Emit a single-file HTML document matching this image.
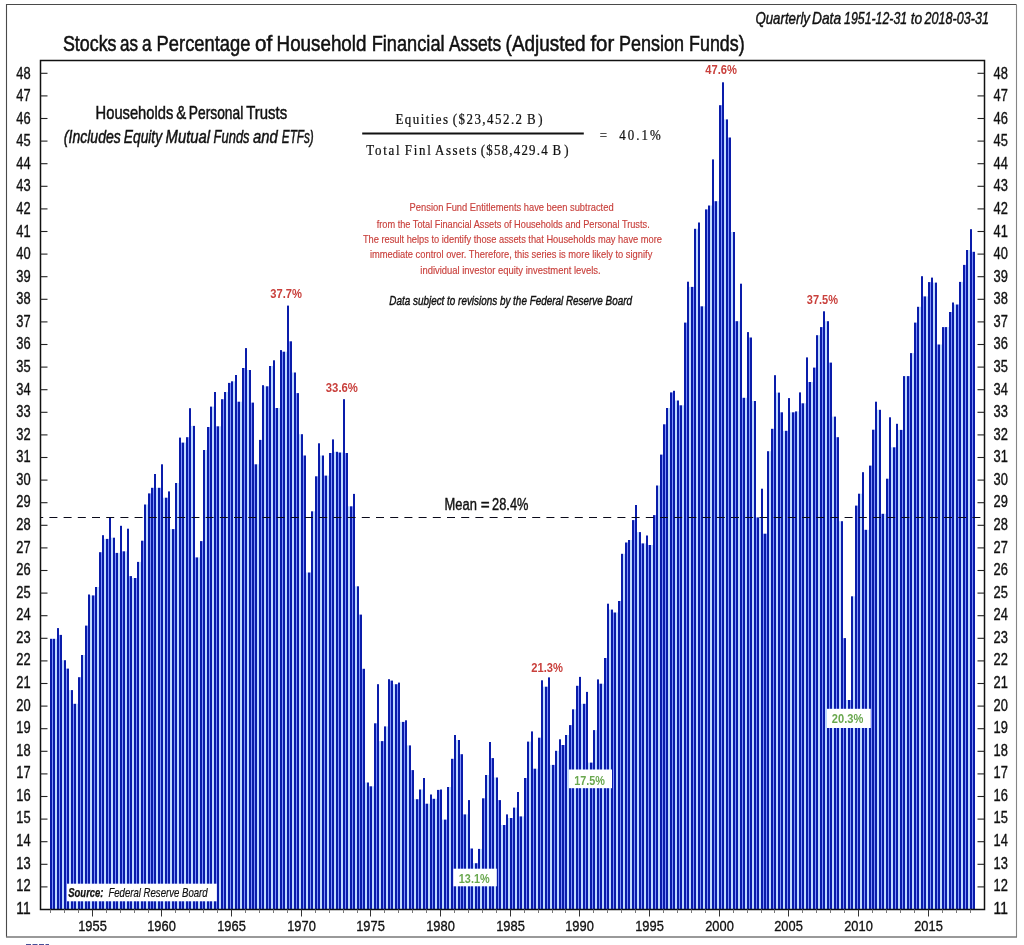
<!DOCTYPE html>
<html lang="en"><head><meta charset="utf-8"><title>Stocks as a Percentage of Household Financial Assets</title>
<style>html,body{margin:0;padding:0;background:#fff}svg{display:block}text{font-family:"Liberation Sans", sans-serif}.sf{font-family:"Liberation Serif", serif}</style></head><body>
<svg width="1024" height="945" viewBox="0 0 1024 945">
<rect x="0" y="0" width="1024" height="945" fill="#fff"/>
<path d="M6.5 937V4.5H1016.5" fill="none" stroke="#4a4a4a" stroke-width="1.1"/>
<path d="M1016.5 4.5V937" fill="none" stroke="#858585" stroke-width="1.1"/>
<path d="M6 937H1017" fill="none" stroke="#777" stroke-width="1.7"/>
<path d="M26 944.7H49" fill="none" stroke="#1a237e" stroke-width="1.2" stroke-dasharray="5 1.5" opacity="0.8"/>
<g fill="#8092fc">
<rect x="52" y="638.8" width="1" height="270.7"/>
<rect x="59" y="634.9" width="1" height="274.6"/>
<rect x="66" y="668.6" width="1" height="240.9"/>
<rect x="73" y="703.8" width="1" height="205.7"/>
<rect x="80" y="677.2" width="1" height="232.3"/>
<rect x="87" y="625.6" width="1" height="283.9"/>
<rect x="94" y="595.4" width="1" height="314.1"/>
<rect x="101" y="552.2" width="1" height="357.3"/>
<rect x="108" y="538.9" width="1" height="370.6"/>
<rect x="115" y="552.9" width="1" height="356.6"/>
<rect x="122" y="551.3" width="1" height="358.2"/>
<rect x="129" y="576.1" width="1" height="333.4"/>
<rect x="136" y="578.0" width="1" height="331.5"/>
<rect x="143" y="540.7" width="1" height="368.8"/>
<rect x="150" y="493.4" width="1" height="416.1"/>
<rect x="153" y="487.8" width="1" height="421.7"/>
<rect x="160" y="487.8" width="1" height="421.7"/>
<rect x="167" y="497.7" width="1" height="411.8"/>
<rect x="174" y="529.1" width="1" height="380.4"/>
<rect x="181" y="442.6" width="1" height="466.9"/>
<rect x="188" y="437.2" width="1" height="472.3"/>
<rect x="195" y="557.4" width="1" height="352.1"/>
<rect x="202" y="541.1" width="1" height="368.4"/>
<rect x="209" y="427.0" width="1" height="482.5"/>
<rect x="216" y="426.3" width="1" height="483.2"/>
<rect x="223" y="399.2" width="1" height="510.3"/>
<rect x="230" y="382.9" width="1" height="526.6"/>
<rect x="237" y="401.7" width="1" height="507.8"/>
<rect x="244" y="368.0" width="1" height="541.5"/>
<rect x="251" y="402.6" width="1" height="506.9"/>
<rect x="254" y="464.3" width="1" height="445.2"/>
<rect x="261" y="439.9" width="1" height="469.6"/>
<rect x="268" y="386.3" width="1" height="523.2"/>
<rect x="275" y="408.0" width="1" height="501.5"/>
<rect x="282" y="351.7" width="1" height="557.8"/>
<rect x="289" y="341.3" width="1" height="568.2"/>
<rect x="296" y="393.1" width="1" height="516.4"/>
<rect x="303" y="455.5" width="1" height="454.0"/>
<rect x="310" y="572.5" width="1" height="337.0"/>
<rect x="317" y="476.3" width="1" height="433.2"/>
<rect x="324" y="475.6" width="1" height="433.9"/>
<rect x="331" y="453.0" width="1" height="456.5"/>
<rect x="338" y="452.5" width="1" height="457.0"/>
<rect x="345" y="453.0" width="1" height="456.5"/>
<rect x="352" y="506.3" width="1" height="403.2"/>
<rect x="359" y="614.6" width="1" height="294.9"/>
<rect x="362" y="668.8" width="1" height="240.7"/>
<rect x="369" y="786.3" width="1" height="123.2"/>
<rect x="376" y="723.3" width="1" height="186.2"/>
<rect x="383" y="741.1" width="1" height="168.4"/>
<rect x="390" y="680.6" width="1" height="228.9"/>
<rect x="397" y="684.2" width="1" height="225.3"/>
<rect x="404" y="721.9" width="1" height="187.6"/>
<rect x="411" y="770.1" width="1" height="139.4"/>
<rect x="418" y="799.2" width="1" height="110.3"/>
<rect x="425" y="803.7" width="1" height="105.8"/>
<rect x="432" y="798.8" width="1" height="110.7"/>
<rect x="439" y="789.9" width="1" height="119.6"/>
<rect x="446" y="819.6" width="1" height="89.9"/>
<rect x="453" y="758.8" width="1" height="150.7"/>
<rect x="460" y="754.2" width="1" height="155.3"/>
<rect x="463" y="814.4" width="1" height="95.1"/>
<rect x="470" y="848.5" width="1" height="61.0"/>
<rect x="477" y="863.2" width="1" height="46.3"/>
<rect x="484" y="798.3" width="1" height="111.2"/>
<rect x="491" y="758.1" width="1" height="151.4"/>
<rect x="498" y="800.1" width="1" height="109.4"/>
<rect x="505" y="825.0" width="1" height="84.5"/>
<rect x="512" y="818.0" width="1" height="91.5"/>
<rect x="519" y="816.4" width="1" height="93.1"/>
<rect x="526" y="778.0" width="1" height="131.5"/>
<rect x="533" y="768.7" width="1" height="140.8"/>
<rect x="540" y="737.7" width="1" height="171.8"/>
<rect x="547" y="686.7" width="1" height="222.8"/>
<rect x="554" y="764.9" width="1" height="144.6"/>
<rect x="561" y="745.0" width="1" height="164.5"/>
<rect x="564" y="745.0" width="1" height="164.5"/>
<rect x="571" y="725.1" width="1" height="184.4"/>
<rect x="578" y="685.8" width="1" height="223.7"/>
<rect x="585" y="703.8" width="1" height="205.7"/>
<rect x="592" y="762.6" width="1" height="146.9"/>
<rect x="599" y="683.7" width="1" height="225.8"/>
<rect x="606" y="658.0" width="1" height="251.5"/>
<rect x="613" y="612.5" width="1" height="297.0"/>
<rect x="620" y="601.0" width="1" height="308.5"/>
<rect x="627" y="542.5" width="1" height="367.0"/>
<rect x="634" y="520.1" width="1" height="389.4"/>
<rect x="641" y="543.4" width="1" height="366.1"/>
<rect x="648" y="545.0" width="1" height="364.5"/>
<rect x="655" y="515.1" width="1" height="394.4"/>
<rect x="662" y="454.6" width="1" height="454.9"/>
<rect x="665" y="424.3" width="1" height="485.2"/>
<rect x="672" y="392.4" width="1" height="517.1"/>
<rect x="679" y="405.3" width="1" height="504.2"/>
<rect x="686" y="322.6" width="1" height="586.9"/>
<rect x="693" y="286.9" width="1" height="622.6"/>
<rect x="700" y="306.3" width="1" height="603.2"/>
<rect x="707" y="209.4" width="1" height="700.1"/>
<rect x="714" y="201.2" width="1" height="708.3"/>
<rect x="721" y="105.2" width="1" height="804.3"/>
<rect x="728" y="137.5" width="1" height="772.0"/>
<rect x="735" y="321.2" width="1" height="588.3"/>
<rect x="742" y="397.8" width="1" height="511.7"/>
<rect x="749" y="337.5" width="1" height="572.0"/>
<rect x="756" y="517.4" width="1" height="392.1"/>
<rect x="763" y="533.7" width="1" height="375.8"/>
<rect x="766" y="533.7" width="1" height="375.8"/>
<rect x="773" y="428.8" width="1" height="480.7"/>
<rect x="780" y="412.3" width="1" height="497.2"/>
<rect x="787" y="430.8" width="1" height="478.7"/>
<rect x="794" y="412.3" width="1" height="497.2"/>
<rect x="801" y="403.3" width="1" height="506.2"/>
<rect x="808" y="382.0" width="1" height="527.5"/>
<rect x="815" y="367.6" width="1" height="541.9"/>
<rect x="822" y="327.1" width="1" height="582.4"/>
<rect x="829" y="362.6" width="1" height="546.9"/>
<rect x="836" y="437.2" width="1" height="472.3"/>
<rect x="843" y="638.1" width="1" height="271.4"/>
<rect x="850" y="700.0" width="1" height="209.5"/>
<rect x="857" y="505.6" width="1" height="403.9"/>
<rect x="864" y="529.8" width="1" height="379.7"/>
<rect x="871" y="465.6" width="1" height="443.9"/>
<rect x="874" y="429.7" width="1" height="479.8"/>
<rect x="881" y="513.8" width="1" height="395.7"/>
<rect x="888" y="478.7" width="1" height="430.8"/>
<rect x="895" y="447.3" width="1" height="462.2"/>
<rect x="902" y="429.9" width="1" height="479.6"/>
<rect x="909" y="376.1" width="1" height="533.4"/>
<rect x="916" y="322.6" width="1" height="586.9"/>
<rect x="923" y="296.4" width="1" height="613.1"/>
<rect x="930" y="282.1" width="1" height="627.4"/>
<rect x="937" y="344.5" width="1" height="565.0"/>
<rect x="944" y="327.1" width="1" height="582.4"/>
<rect x="951" y="312.0" width="1" height="597.5"/>
<rect x="958" y="304.5" width="1" height="605.0"/>
<rect x="965" y="264.9" width="1" height="644.6"/>
<rect x="972" y="251.8" width="1" height="657.7"/>
</g>
<g fill="#c0daff">
<rect x="55" y="638.8" width="2" height="270.7"/>
<rect x="62" y="660.2" width="2" height="249.3"/>
<rect x="69" y="690.1" width="2" height="219.4"/>
<rect x="76" y="703.8" width="2" height="205.7"/>
<rect x="83" y="655.0" width="2" height="254.5"/>
<rect x="90" y="595.4" width="2" height="314.1"/>
<rect x="97" y="587.0" width="2" height="322.5"/>
<rect x="104" y="538.9" width="2" height="370.6"/>
<rect x="111" y="537.7" width="2" height="371.8"/>
<rect x="118" y="552.9" width="2" height="356.6"/>
<rect x="125" y="551.3" width="2" height="358.2"/>
<rect x="132" y="578.0" width="2" height="331.5"/>
<rect x="139" y="561.9" width="2" height="347.6"/>
<rect x="146" y="504.5" width="2" height="405.0"/>
<rect x="156" y="487.8" width="2" height="421.7"/>
<rect x="163" y="497.7" width="2" height="411.8"/>
<rect x="170" y="529.1" width="2" height="380.4"/>
<rect x="177" y="483.0" width="2" height="426.5"/>
<rect x="184" y="442.6" width="2" height="466.9"/>
<rect x="191" y="425.9" width="2" height="483.6"/>
<rect x="198" y="557.4" width="2" height="352.1"/>
<rect x="205" y="450.0" width="2" height="459.5"/>
<rect x="212" y="406.6" width="2" height="502.9"/>
<rect x="219" y="426.3" width="2" height="483.2"/>
<rect x="226" y="392.0" width="2" height="517.5"/>
<rect x="233" y="381.3" width="2" height="528.2"/>
<rect x="240" y="401.7" width="2" height="507.8"/>
<rect x="247" y="370.0" width="2" height="539.5"/>
<rect x="257" y="464.3" width="2" height="445.2"/>
<rect x="264" y="386.3" width="2" height="523.2"/>
<rect x="271" y="366.0" width="2" height="543.5"/>
<rect x="278" y="408.0" width="2" height="501.5"/>
<rect x="285" y="351.7" width="2" height="557.8"/>
<rect x="292" y="372.5" width="2" height="537.0"/>
<rect x="299" y="434.2" width="2" height="475.3"/>
<rect x="306" y="572.5" width="2" height="337.0"/>
<rect x="313" y="511.3" width="2" height="398.2"/>
<rect x="320" y="455.5" width="2" height="454.0"/>
<rect x="327" y="475.6" width="2" height="433.9"/>
<rect x="334" y="451.8" width="2" height="457.7"/>
<rect x="341" y="452.5" width="2" height="457.0"/>
<rect x="348" y="506.3" width="2" height="403.2"/>
<rect x="355" y="586.3" width="2" height="323.2"/>
<rect x="365" y="782.5" width="2" height="127.0"/>
<rect x="372" y="786.3" width="2" height="123.2"/>
<rect x="379" y="741.1" width="2" height="168.4"/>
<rect x="386" y="726.4" width="2" height="183.1"/>
<rect x="393" y="684.2" width="2" height="225.3"/>
<rect x="400" y="721.9" width="2" height="187.6"/>
<rect x="407" y="745.4" width="2" height="164.1"/>
<rect x="414" y="799.2" width="2" height="110.3"/>
<rect x="421" y="789.5" width="2" height="120.0"/>
<rect x="428" y="803.7" width="2" height="105.8"/>
<rect x="435" y="798.8" width="2" height="110.7"/>
<rect x="442" y="819.6" width="2" height="89.9"/>
<rect x="449" y="787.0" width="2" height="122.5"/>
<rect x="456" y="740.0" width="2" height="169.5"/>
<rect x="466" y="814.4" width="2" height="95.1"/>
<rect x="473" y="863.2" width="2" height="46.3"/>
<rect x="480" y="848.9" width="2" height="60.6"/>
<rect x="487" y="775.0" width="2" height="134.5"/>
<rect x="494" y="777.5" width="2" height="132.0"/>
<rect x="501" y="825.0" width="2" height="84.5"/>
<rect x="508" y="818.0" width="2" height="91.5"/>
<rect x="515" y="807.6" width="2" height="101.9"/>
<rect x="522" y="816.4" width="2" height="93.1"/>
<rect x="529" y="741.6" width="2" height="167.9"/>
<rect x="536" y="768.7" width="2" height="140.8"/>
<rect x="543" y="686.7" width="2" height="222.8"/>
<rect x="550" y="764.9" width="2" height="144.6"/>
<rect x="557" y="750.8" width="2" height="158.7"/>
<rect x="567" y="735.0" width="2" height="174.5"/>
<rect x="574" y="709.3" width="2" height="200.2"/>
<rect x="581" y="703.8" width="2" height="205.7"/>
<rect x="588" y="762.6" width="2" height="146.9"/>
<rect x="595" y="730.1" width="2" height="179.4"/>
<rect x="602" y="683.7" width="2" height="225.8"/>
<rect x="609" y="609.6" width="2" height="299.9"/>
<rect x="616" y="612.5" width="2" height="297.0"/>
<rect x="623" y="553.8" width="2" height="355.7"/>
<rect x="630" y="540.0" width="2" height="369.5"/>
<rect x="637" y="532.1" width="2" height="377.4"/>
<rect x="644" y="543.4" width="2" height="366.1"/>
<rect x="651" y="545.0" width="2" height="364.5"/>
<rect x="658" y="485.5" width="2" height="424.0"/>
<rect x="668" y="408.0" width="2" height="501.5"/>
<rect x="675" y="400.5" width="2" height="509.0"/>
<rect x="682" y="405.3" width="2" height="504.2"/>
<rect x="689" y="286.9" width="2" height="622.6"/>
<rect x="696" y="228.8" width="2" height="680.7"/>
<rect x="703" y="306.3" width="2" height="603.2"/>
<rect x="710" y="205.5" width="2" height="704.0"/>
<rect x="717" y="201.2" width="2" height="708.3"/>
<rect x="724" y="119.4" width="2" height="790.1"/>
<rect x="731" y="232.0" width="2" height="677.5"/>
<rect x="738" y="321.2" width="2" height="588.3"/>
<rect x="745" y="397.8" width="2" height="511.7"/>
<rect x="752" y="401.0" width="2" height="508.5"/>
<rect x="759" y="517.4" width="2" height="392.1"/>
<rect x="769" y="451.2" width="2" height="458.3"/>
<rect x="776" y="392.6" width="2" height="516.9"/>
<rect x="783" y="430.8" width="2" height="478.7"/>
<rect x="790" y="412.3" width="2" height="497.2"/>
<rect x="797" y="411.4" width="2" height="498.1"/>
<rect x="804" y="403.3" width="2" height="506.2"/>
<rect x="811" y="382.0" width="2" height="527.5"/>
<rect x="818" y="335.2" width="2" height="574.3"/>
<rect x="825" y="321.2" width="2" height="588.3"/>
<rect x="832" y="416.6" width="2" height="492.9"/>
<rect x="839" y="521.2" width="2" height="388.3"/>
<rect x="846" y="700.0" width="2" height="209.5"/>
<rect x="853" y="596.3" width="2" height="313.2"/>
<rect x="860" y="493.7" width="2" height="415.8"/>
<rect x="867" y="529.8" width="2" height="379.7"/>
<rect x="877" y="409.8" width="2" height="499.7"/>
<rect x="884" y="513.8" width="2" height="395.7"/>
<rect x="891" y="447.3" width="2" height="462.2"/>
<rect x="898" y="429.9" width="2" height="479.6"/>
<rect x="905" y="376.1" width="2" height="533.4"/>
<rect x="912" y="353.1" width="2" height="556.4"/>
<rect x="919" y="306.8" width="2" height="602.7"/>
<rect x="926" y="296.4" width="2" height="613.1"/>
<rect x="933" y="282.6" width="2" height="626.9"/>
<rect x="940" y="344.5" width="2" height="565.0"/>
<rect x="947" y="327.1" width="2" height="582.4"/>
<rect x="954" y="304.5" width="2" height="605.0"/>
<rect x="961" y="281.9" width="2" height="627.6"/>
<rect x="968" y="250.0" width="2" height="659.5"/>
</g>
<g fill="#0a1caa">
<rect x="50" y="638.8" width="2" height="270.7"/>
<rect x="53" y="638.8" width="2" height="270.7"/>
<rect x="57" y="628.1" width="2" height="281.4"/>
<rect x="60" y="634.9" width="2" height="274.6"/>
<rect x="64" y="660.2" width="2" height="249.3"/>
<rect x="67" y="668.6" width="2" height="240.9"/>
<rect x="71" y="690.1" width="2" height="219.4"/>
<rect x="74" y="703.8" width="2" height="205.7"/>
<rect x="78" y="677.2" width="2" height="232.3"/>
<rect x="81" y="655.0" width="2" height="254.5"/>
<rect x="85" y="625.6" width="2" height="283.9"/>
<rect x="88" y="594.5" width="2" height="315.0"/>
<rect x="92" y="595.4" width="2" height="314.1"/>
<rect x="95" y="587.0" width="2" height="322.5"/>
<rect x="99" y="552.2" width="2" height="357.3"/>
<rect x="102" y="535.2" width="2" height="374.3"/>
<rect x="106" y="538.9" width="2" height="370.6"/>
<rect x="109" y="517.2" width="2" height="392.3"/>
<rect x="113" y="537.7" width="2" height="371.8"/>
<rect x="116" y="552.9" width="2" height="356.6"/>
<rect x="120" y="525.8" width="2" height="383.7"/>
<rect x="123" y="551.3" width="2" height="358.2"/>
<rect x="127" y="528.7" width="2" height="380.8"/>
<rect x="130" y="576.1" width="2" height="333.4"/>
<rect x="134" y="578.0" width="2" height="331.5"/>
<rect x="137" y="561.9" width="2" height="347.6"/>
<rect x="141" y="540.7" width="2" height="368.8"/>
<rect x="144" y="504.5" width="2" height="405.0"/>
<rect x="148" y="493.4" width="2" height="416.1"/>
<rect x="151" y="487.8" width="2" height="421.7"/>
<rect x="154" y="474.0" width="2" height="435.5"/>
<rect x="158" y="487.8" width="2" height="421.7"/>
<rect x="161" y="464.3" width="2" height="445.2"/>
<rect x="165" y="497.7" width="2" height="411.8"/>
<rect x="168" y="491.4" width="2" height="418.1"/>
<rect x="172" y="529.1" width="2" height="380.4"/>
<rect x="175" y="483.0" width="2" height="426.5"/>
<rect x="179" y="437.6" width="2" height="471.9"/>
<rect x="182" y="442.6" width="2" height="466.9"/>
<rect x="186" y="437.2" width="2" height="472.3"/>
<rect x="189" y="408.2" width="2" height="501.3"/>
<rect x="193" y="425.9" width="2" height="483.6"/>
<rect x="196" y="557.4" width="2" height="352.1"/>
<rect x="200" y="541.1" width="2" height="368.4"/>
<rect x="203" y="450.0" width="2" height="459.5"/>
<rect x="207" y="427.0" width="2" height="482.5"/>
<rect x="210" y="406.6" width="2" height="502.9"/>
<rect x="214" y="392.0" width="2" height="517.5"/>
<rect x="217" y="426.3" width="2" height="483.2"/>
<rect x="221" y="399.2" width="2" height="510.3"/>
<rect x="224" y="392.0" width="2" height="517.5"/>
<rect x="228" y="382.9" width="2" height="526.6"/>
<rect x="231" y="381.3" width="2" height="528.2"/>
<rect x="235" y="375.0" width="2" height="534.5"/>
<rect x="238" y="401.7" width="2" height="507.8"/>
<rect x="242" y="368.0" width="2" height="541.5"/>
<rect x="245" y="348.1" width="2" height="561.4"/>
<rect x="249" y="370.0" width="2" height="539.5"/>
<rect x="252" y="402.6" width="2" height="506.9"/>
<rect x="255" y="464.3" width="2" height="445.2"/>
<rect x="259" y="439.9" width="2" height="469.6"/>
<rect x="262" y="385.2" width="2" height="524.3"/>
<rect x="266" y="386.3" width="2" height="523.2"/>
<rect x="269" y="366.0" width="2" height="543.5"/>
<rect x="273" y="360.3" width="2" height="549.2"/>
<rect x="276" y="408.0" width="2" height="501.5"/>
<rect x="280" y="350.1" width="2" height="559.4"/>
<rect x="283" y="351.7" width="2" height="557.8"/>
<rect x="287" y="305.6" width="2" height="603.9"/>
<rect x="290" y="341.3" width="2" height="568.2"/>
<rect x="294" y="372.5" width="2" height="537.0"/>
<rect x="297" y="393.1" width="2" height="516.4"/>
<rect x="301" y="434.2" width="2" height="475.3"/>
<rect x="304" y="455.5" width="2" height="454.0"/>
<rect x="308" y="572.5" width="2" height="337.0"/>
<rect x="311" y="511.3" width="2" height="398.2"/>
<rect x="315" y="476.3" width="2" height="433.2"/>
<rect x="318" y="443.3" width="2" height="466.2"/>
<rect x="322" y="455.5" width="2" height="454.0"/>
<rect x="325" y="475.6" width="2" height="433.9"/>
<rect x="329" y="453.0" width="2" height="456.5"/>
<rect x="332" y="439.4" width="2" height="470.1"/>
<rect x="336" y="451.8" width="2" height="457.7"/>
<rect x="339" y="452.5" width="2" height="457.0"/>
<rect x="343" y="399.2" width="2" height="510.3"/>
<rect x="346" y="453.0" width="2" height="456.5"/>
<rect x="350" y="506.3" width="2" height="403.2"/>
<rect x="353" y="493.9" width="2" height="415.6"/>
<rect x="357" y="586.3" width="2" height="323.2"/>
<rect x="360" y="614.6" width="2" height="294.9"/>
<rect x="363" y="668.8" width="2" height="240.7"/>
<rect x="367" y="782.5" width="2" height="127.0"/>
<rect x="370" y="786.3" width="2" height="123.2"/>
<rect x="374" y="723.3" width="2" height="186.2"/>
<rect x="377" y="684.2" width="2" height="225.3"/>
<rect x="381" y="741.1" width="2" height="168.4"/>
<rect x="384" y="726.4" width="2" height="183.1"/>
<rect x="388" y="679.2" width="2" height="230.3"/>
<rect x="391" y="680.6" width="2" height="228.9"/>
<rect x="395" y="684.2" width="2" height="225.3"/>
<rect x="398" y="682.6" width="2" height="226.9"/>
<rect x="402" y="721.9" width="2" height="187.6"/>
<rect x="405" y="720.3" width="2" height="189.2"/>
<rect x="409" y="745.4" width="2" height="164.1"/>
<rect x="412" y="770.1" width="2" height="139.4"/>
<rect x="416" y="799.2" width="2" height="110.3"/>
<rect x="419" y="789.5" width="2" height="120.0"/>
<rect x="423" y="778.0" width="2" height="131.5"/>
<rect x="426" y="803.7" width="2" height="105.8"/>
<rect x="430" y="794.5" width="2" height="115.0"/>
<rect x="433" y="798.8" width="2" height="110.7"/>
<rect x="437" y="789.9" width="2" height="119.6"/>
<rect x="440" y="789.5" width="2" height="120.0"/>
<rect x="444" y="819.6" width="2" height="89.9"/>
<rect x="447" y="787.0" width="2" height="122.5"/>
<rect x="451" y="758.8" width="2" height="150.7"/>
<rect x="454" y="735.0" width="2" height="174.5"/>
<rect x="458" y="740.0" width="2" height="169.5"/>
<rect x="461" y="754.2" width="2" height="155.3"/>
<rect x="464" y="814.4" width="2" height="95.1"/>
<rect x="468" y="800.1" width="2" height="109.4"/>
<rect x="471" y="848.5" width="2" height="61.0"/>
<rect x="475" y="863.2" width="2" height="46.3"/>
<rect x="478" y="848.9" width="2" height="60.6"/>
<rect x="482" y="798.3" width="2" height="111.2"/>
<rect x="485" y="775.0" width="2" height="134.5"/>
<rect x="489" y="742.0" width="2" height="167.5"/>
<rect x="492" y="758.1" width="2" height="151.4"/>
<rect x="496" y="777.5" width="2" height="132.0"/>
<rect x="499" y="800.1" width="2" height="109.4"/>
<rect x="503" y="825.0" width="2" height="84.5"/>
<rect x="506" y="814.4" width="2" height="95.1"/>
<rect x="510" y="818.0" width="2" height="91.5"/>
<rect x="513" y="807.6" width="2" height="101.9"/>
<rect x="517" y="792.0" width="2" height="117.5"/>
<rect x="520" y="816.4" width="2" height="93.1"/>
<rect x="524" y="778.0" width="2" height="131.5"/>
<rect x="527" y="741.6" width="2" height="167.9"/>
<rect x="531" y="731.4" width="2" height="178.1"/>
<rect x="534" y="768.7" width="2" height="140.8"/>
<rect x="538" y="737.7" width="2" height="171.8"/>
<rect x="541" y="680.3" width="2" height="229.2"/>
<rect x="545" y="686.7" width="2" height="222.8"/>
<rect x="548" y="677.4" width="2" height="232.1"/>
<rect x="552" y="764.9" width="2" height="144.6"/>
<rect x="555" y="750.8" width="2" height="158.7"/>
<rect x="559" y="739.3" width="2" height="170.2"/>
<rect x="562" y="745.0" width="2" height="164.5"/>
<rect x="565" y="735.0" width="2" height="174.5"/>
<rect x="569" y="725.1" width="2" height="184.4"/>
<rect x="572" y="709.3" width="2" height="200.2"/>
<rect x="576" y="685.8" width="2" height="223.7"/>
<rect x="579" y="676.9" width="2" height="232.6"/>
<rect x="583" y="703.8" width="2" height="205.7"/>
<rect x="586" y="691.9" width="2" height="217.6"/>
<rect x="590" y="762.6" width="2" height="146.9"/>
<rect x="593" y="730.1" width="2" height="179.4"/>
<rect x="597" y="679.4" width="2" height="230.1"/>
<rect x="600" y="683.7" width="2" height="225.8"/>
<rect x="604" y="658.0" width="2" height="251.5"/>
<rect x="607" y="603.7" width="2" height="305.8"/>
<rect x="611" y="609.6" width="2" height="299.9"/>
<rect x="614" y="612.5" width="2" height="297.0"/>
<rect x="618" y="601.0" width="2" height="308.5"/>
<rect x="621" y="553.8" width="2" height="355.7"/>
<rect x="625" y="542.5" width="2" height="367.0"/>
<rect x="628" y="540.0" width="2" height="369.5"/>
<rect x="632" y="520.1" width="2" height="389.4"/>
<rect x="635" y="505.0" width="2" height="404.5"/>
<rect x="639" y="532.1" width="2" height="377.4"/>
<rect x="642" y="543.4" width="2" height="366.1"/>
<rect x="646" y="535.5" width="2" height="374.0"/>
<rect x="649" y="545.0" width="2" height="364.5"/>
<rect x="653" y="515.1" width="2" height="394.4"/>
<rect x="656" y="485.5" width="2" height="424.0"/>
<rect x="660" y="454.6" width="2" height="454.9"/>
<rect x="663" y="424.3" width="2" height="485.2"/>
<rect x="666" y="408.0" width="2" height="501.5"/>
<rect x="670" y="392.4" width="2" height="517.1"/>
<rect x="673" y="390.8" width="2" height="518.7"/>
<rect x="677" y="400.5" width="2" height="509.0"/>
<rect x="680" y="405.3" width="2" height="504.2"/>
<rect x="684" y="322.6" width="2" height="586.9"/>
<rect x="687" y="281.7" width="2" height="627.8"/>
<rect x="691" y="286.9" width="2" height="622.6"/>
<rect x="694" y="228.8" width="2" height="680.7"/>
<rect x="698" y="222.5" width="2" height="687.0"/>
<rect x="701" y="306.3" width="2" height="603.2"/>
<rect x="705" y="209.4" width="2" height="700.1"/>
<rect x="708" y="205.5" width="2" height="704.0"/>
<rect x="712" y="159.4" width="2" height="750.1"/>
<rect x="715" y="201.2" width="2" height="708.3"/>
<rect x="719" y="105.2" width="2" height="804.3"/>
<rect x="722" y="82.3" width="2" height="827.2"/>
<rect x="726" y="119.4" width="2" height="790.1"/>
<rect x="729" y="137.5" width="2" height="772.0"/>
<rect x="733" y="232.0" width="2" height="677.5"/>
<rect x="736" y="321.2" width="2" height="588.3"/>
<rect x="740" y="283.7" width="2" height="625.8"/>
<rect x="743" y="397.8" width="2" height="511.7"/>
<rect x="747" y="332.1" width="2" height="577.4"/>
<rect x="750" y="337.5" width="2" height="572.0"/>
<rect x="754" y="401.0" width="2" height="508.5"/>
<rect x="757" y="517.4" width="2" height="392.1"/>
<rect x="761" y="488.7" width="2" height="420.8"/>
<rect x="764" y="533.7" width="2" height="375.8"/>
<rect x="767" y="451.2" width="2" height="458.3"/>
<rect x="771" y="428.8" width="2" height="480.7"/>
<rect x="774" y="375.2" width="2" height="534.3"/>
<rect x="778" y="392.6" width="2" height="516.9"/>
<rect x="781" y="412.3" width="2" height="497.2"/>
<rect x="785" y="430.8" width="2" height="478.7"/>
<rect x="788" y="398.1" width="2" height="511.4"/>
<rect x="792" y="412.3" width="2" height="497.2"/>
<rect x="795" y="411.4" width="2" height="498.1"/>
<rect x="799" y="392.4" width="2" height="517.1"/>
<rect x="802" y="403.3" width="2" height="506.2"/>
<rect x="806" y="357.4" width="2" height="552.1"/>
<rect x="809" y="382.0" width="2" height="527.5"/>
<rect x="813" y="367.6" width="2" height="541.9"/>
<rect x="816" y="335.2" width="2" height="574.3"/>
<rect x="820" y="327.1" width="2" height="582.4"/>
<rect x="823" y="311.3" width="2" height="598.2"/>
<rect x="827" y="321.2" width="2" height="588.3"/>
<rect x="830" y="362.6" width="2" height="546.9"/>
<rect x="834" y="416.6" width="2" height="492.9"/>
<rect x="837" y="437.2" width="2" height="472.3"/>
<rect x="841" y="521.2" width="2" height="388.3"/>
<rect x="844" y="638.1" width="2" height="271.4"/>
<rect x="848" y="700.0" width="2" height="209.5"/>
<rect x="851" y="596.3" width="2" height="313.2"/>
<rect x="855" y="505.6" width="2" height="403.9"/>
<rect x="858" y="493.7" width="2" height="415.8"/>
<rect x="862" y="472.2" width="2" height="437.3"/>
<rect x="865" y="529.8" width="2" height="379.7"/>
<rect x="869" y="465.6" width="2" height="443.9"/>
<rect x="872" y="429.7" width="2" height="479.8"/>
<rect x="875" y="401.7" width="2" height="507.8"/>
<rect x="879" y="409.8" width="2" height="499.7"/>
<rect x="882" y="513.8" width="2" height="395.7"/>
<rect x="886" y="478.7" width="2" height="430.8"/>
<rect x="889" y="417.3" width="2" height="492.2"/>
<rect x="893" y="447.3" width="2" height="462.2"/>
<rect x="896" y="423.8" width="2" height="485.7"/>
<rect x="900" y="429.9" width="2" height="479.6"/>
<rect x="903" y="376.1" width="2" height="533.4"/>
<rect x="907" y="376.1" width="2" height="533.4"/>
<rect x="910" y="353.1" width="2" height="556.4"/>
<rect x="914" y="322.6" width="2" height="586.9"/>
<rect x="917" y="306.8" width="2" height="602.7"/>
<rect x="921" y="276.2" width="2" height="633.3"/>
<rect x="924" y="296.4" width="2" height="613.1"/>
<rect x="928" y="282.1" width="2" height="627.4"/>
<rect x="931" y="277.6" width="2" height="631.9"/>
<rect x="935" y="282.6" width="2" height="626.9"/>
<rect x="938" y="344.5" width="2" height="565.0"/>
<rect x="942" y="327.1" width="2" height="582.4"/>
<rect x="945" y="327.1" width="2" height="582.4"/>
<rect x="949" y="312.0" width="2" height="597.5"/>
<rect x="952" y="302.5" width="2" height="607.0"/>
<rect x="956" y="304.5" width="2" height="605.0"/>
<rect x="959" y="281.9" width="2" height="627.6"/>
<rect x="963" y="264.9" width="2" height="644.6"/>
<rect x="966" y="250.0" width="2" height="659.5"/>
<rect x="970" y="229.2" width="2" height="680.3"/>
<rect x="973" y="251.8" width="2" height="657.7"/>
</g>
<line x1="40.5" y1="517.5" x2="984.5" y2="517.5" stroke="#0a0a1a" stroke-width="1.15" stroke-dasharray="8 6.2" stroke-dashoffset="5.3"/>
<rect x="40.5" y="60.5" width="944.0" height="849.0" fill="none" stroke="#111" stroke-width="1.5"/>
<g stroke="#222" stroke-width="1.1">
<line x1="40.5" y1="886.9" x2="47.5" y2="886.9"/>
<line x1="977.5" y1="886.9" x2="984.5" y2="886.9"/>
<line x1="40.5" y1="864.3" x2="47.5" y2="864.3"/>
<line x1="977.5" y1="864.3" x2="984.5" y2="864.3"/>
<line x1="40.5" y1="841.7" x2="47.5" y2="841.7"/>
<line x1="977.5" y1="841.7" x2="984.5" y2="841.7"/>
<line x1="40.5" y1="819.1" x2="47.5" y2="819.1"/>
<line x1="977.5" y1="819.1" x2="984.5" y2="819.1"/>
<line x1="40.5" y1="796.5" x2="47.5" y2="796.5"/>
<line x1="977.5" y1="796.5" x2="984.5" y2="796.5"/>
<line x1="40.5" y1="773.9" x2="47.5" y2="773.9"/>
<line x1="977.5" y1="773.9" x2="984.5" y2="773.9"/>
<line x1="40.5" y1="751.3" x2="47.5" y2="751.3"/>
<line x1="977.5" y1="751.3" x2="984.5" y2="751.3"/>
<line x1="40.5" y1="728.7" x2="47.5" y2="728.7"/>
<line x1="977.5" y1="728.7" x2="984.5" y2="728.7"/>
<line x1="40.5" y1="706.1" x2="47.5" y2="706.1"/>
<line x1="977.5" y1="706.1" x2="984.5" y2="706.1"/>
<line x1="40.5" y1="683.5" x2="47.5" y2="683.5"/>
<line x1="977.5" y1="683.5" x2="984.5" y2="683.5"/>
<line x1="40.5" y1="660.9" x2="47.5" y2="660.9"/>
<line x1="977.5" y1="660.9" x2="984.5" y2="660.9"/>
<line x1="40.5" y1="638.3" x2="47.5" y2="638.3"/>
<line x1="977.5" y1="638.3" x2="984.5" y2="638.3"/>
<line x1="40.5" y1="615.7" x2="47.5" y2="615.7"/>
<line x1="977.5" y1="615.7" x2="984.5" y2="615.7"/>
<line x1="40.5" y1="593.1" x2="47.5" y2="593.1"/>
<line x1="977.5" y1="593.1" x2="984.5" y2="593.1"/>
<line x1="40.5" y1="570.5" x2="47.5" y2="570.5"/>
<line x1="977.5" y1="570.5" x2="984.5" y2="570.5"/>
<line x1="40.5" y1="547.9" x2="47.5" y2="547.9"/>
<line x1="977.5" y1="547.9" x2="984.5" y2="547.9"/>
<line x1="40.5" y1="525.3" x2="47.5" y2="525.3"/>
<line x1="977.5" y1="525.3" x2="984.5" y2="525.3"/>
<line x1="40.5" y1="502.7" x2="47.5" y2="502.7"/>
<line x1="977.5" y1="502.7" x2="984.5" y2="502.7"/>
<line x1="40.5" y1="480.1" x2="47.5" y2="480.1"/>
<line x1="977.5" y1="480.1" x2="984.5" y2="480.1"/>
<line x1="40.5" y1="457.5" x2="47.5" y2="457.5"/>
<line x1="977.5" y1="457.5" x2="984.5" y2="457.5"/>
<line x1="40.5" y1="434.9" x2="47.5" y2="434.9"/>
<line x1="977.5" y1="434.9" x2="984.5" y2="434.9"/>
<line x1="40.5" y1="412.3" x2="47.5" y2="412.3"/>
<line x1="977.5" y1="412.3" x2="984.5" y2="412.3"/>
<line x1="40.5" y1="389.7" x2="47.5" y2="389.7"/>
<line x1="977.5" y1="389.7" x2="984.5" y2="389.7"/>
<line x1="40.5" y1="367.1" x2="47.5" y2="367.1"/>
<line x1="977.5" y1="367.1" x2="984.5" y2="367.1"/>
<line x1="40.5" y1="344.5" x2="47.5" y2="344.5"/>
<line x1="977.5" y1="344.5" x2="984.5" y2="344.5"/>
<line x1="40.5" y1="321.9" x2="47.5" y2="321.9"/>
<line x1="977.5" y1="321.9" x2="984.5" y2="321.9"/>
<line x1="40.5" y1="299.3" x2="47.5" y2="299.3"/>
<line x1="977.5" y1="299.3" x2="984.5" y2="299.3"/>
<line x1="40.5" y1="276.7" x2="47.5" y2="276.7"/>
<line x1="977.5" y1="276.7" x2="984.5" y2="276.7"/>
<line x1="40.5" y1="254.1" x2="47.5" y2="254.1"/>
<line x1="977.5" y1="254.1" x2="984.5" y2="254.1"/>
<line x1="40.5" y1="231.5" x2="47.5" y2="231.5"/>
<line x1="977.5" y1="231.5" x2="984.5" y2="231.5"/>
<line x1="40.5" y1="208.9" x2="47.5" y2="208.9"/>
<line x1="977.5" y1="208.9" x2="984.5" y2="208.9"/>
<line x1="40.5" y1="186.3" x2="47.5" y2="186.3"/>
<line x1="977.5" y1="186.3" x2="984.5" y2="186.3"/>
<line x1="40.5" y1="163.7" x2="47.5" y2="163.7"/>
<line x1="977.5" y1="163.7" x2="984.5" y2="163.7"/>
<line x1="40.5" y1="141.1" x2="47.5" y2="141.1"/>
<line x1="977.5" y1="141.1" x2="984.5" y2="141.1"/>
<line x1="40.5" y1="118.5" x2="47.5" y2="118.5"/>
<line x1="977.5" y1="118.5" x2="984.5" y2="118.5"/>
<line x1="40.5" y1="95.9" x2="47.5" y2="95.9"/>
<line x1="977.5" y1="95.9" x2="984.5" y2="95.9"/>
<line x1="40.5" y1="73.3" x2="47.5" y2="73.3"/>
<line x1="977.5" y1="73.3" x2="984.5" y2="73.3"/>
<line x1="50.5" y1="909.5" x2="50.5" y2="913.0" stroke="#777" stroke-width="1"/>
<line x1="64.5" y1="909.5" x2="64.5" y2="913.0" stroke="#777" stroke-width="1"/>
<line x1="78.5" y1="909.5" x2="78.5" y2="913.0" stroke="#777" stroke-width="1"/>
<line x1="92.5" y1="909.5" x2="92.5" y2="916.5" stroke="#333" stroke-width="1"/>
<line x1="106.5" y1="909.5" x2="106.5" y2="913.0" stroke="#777" stroke-width="1"/>
<line x1="120.5" y1="909.5" x2="120.5" y2="913.0" stroke="#777" stroke-width="1"/>
<line x1="134.5" y1="909.5" x2="134.5" y2="913.0" stroke="#777" stroke-width="1"/>
<line x1="148.5" y1="909.5" x2="148.5" y2="913.0" stroke="#777" stroke-width="1"/>
<line x1="161.5" y1="909.5" x2="161.5" y2="916.5" stroke="#333" stroke-width="1"/>
<line x1="175.5" y1="909.5" x2="175.5" y2="913.0" stroke="#777" stroke-width="1"/>
<line x1="189.5" y1="909.5" x2="189.5" y2="913.0" stroke="#777" stroke-width="1"/>
<line x1="203.5" y1="909.5" x2="203.5" y2="913.0" stroke="#777" stroke-width="1"/>
<line x1="217.5" y1="909.5" x2="217.5" y2="913.0" stroke="#777" stroke-width="1"/>
<line x1="231.5" y1="909.5" x2="231.5" y2="916.5" stroke="#333" stroke-width="1"/>
<line x1="245.5" y1="909.5" x2="245.5" y2="913.0" stroke="#777" stroke-width="1"/>
<line x1="259.5" y1="909.5" x2="259.5" y2="913.0" stroke="#777" stroke-width="1"/>
<line x1="273.5" y1="909.5" x2="273.5" y2="913.0" stroke="#777" stroke-width="1"/>
<line x1="287.5" y1="909.5" x2="287.5" y2="913.0" stroke="#777" stroke-width="1"/>
<line x1="301.5" y1="909.5" x2="301.5" y2="916.5" stroke="#333" stroke-width="1"/>
<line x1="315.5" y1="909.5" x2="315.5" y2="913.0" stroke="#777" stroke-width="1"/>
<line x1="329.5" y1="909.5" x2="329.5" y2="913.0" stroke="#777" stroke-width="1"/>
<line x1="343.5" y1="909.5" x2="343.5" y2="913.0" stroke="#777" stroke-width="1"/>
<line x1="357.5" y1="909.5" x2="357.5" y2="913.0" stroke="#777" stroke-width="1"/>
<line x1="370.5" y1="909.5" x2="370.5" y2="916.5" stroke="#333" stroke-width="1"/>
<line x1="384.5" y1="909.5" x2="384.5" y2="913.0" stroke="#777" stroke-width="1"/>
<line x1="398.5" y1="909.5" x2="398.5" y2="913.0" stroke="#777" stroke-width="1"/>
<line x1="412.5" y1="909.5" x2="412.5" y2="913.0" stroke="#777" stroke-width="1"/>
<line x1="426.5" y1="909.5" x2="426.5" y2="913.0" stroke="#777" stroke-width="1"/>
<line x1="440.5" y1="909.5" x2="440.5" y2="916.5" stroke="#333" stroke-width="1"/>
<line x1="454.5" y1="909.5" x2="454.5" y2="913.0" stroke="#777" stroke-width="1"/>
<line x1="468.5" y1="909.5" x2="468.5" y2="913.0" stroke="#777" stroke-width="1"/>
<line x1="482.5" y1="909.5" x2="482.5" y2="913.0" stroke="#777" stroke-width="1"/>
<line x1="496.5" y1="909.5" x2="496.5" y2="913.0" stroke="#777" stroke-width="1"/>
<line x1="510.5" y1="909.5" x2="510.5" y2="916.5" stroke="#333" stroke-width="1"/>
<line x1="524.5" y1="909.5" x2="524.5" y2="913.0" stroke="#777" stroke-width="1"/>
<line x1="538.5" y1="909.5" x2="538.5" y2="913.0" stroke="#777" stroke-width="1"/>
<line x1="552.5" y1="909.5" x2="552.5" y2="913.0" stroke="#777" stroke-width="1"/>
<line x1="565.5" y1="909.5" x2="565.5" y2="913.0" stroke="#777" stroke-width="1"/>
<line x1="579.5" y1="909.5" x2="579.5" y2="916.5" stroke="#333" stroke-width="1"/>
<line x1="593.5" y1="909.5" x2="593.5" y2="913.0" stroke="#777" stroke-width="1"/>
<line x1="607.5" y1="909.5" x2="607.5" y2="913.0" stroke="#777" stroke-width="1"/>
<line x1="621.5" y1="909.5" x2="621.5" y2="913.0" stroke="#777" stroke-width="1"/>
<line x1="635.5" y1="909.5" x2="635.5" y2="913.0" stroke="#777" stroke-width="1"/>
<line x1="649.5" y1="909.5" x2="649.5" y2="916.5" stroke="#333" stroke-width="1"/>
<line x1="663.5" y1="909.5" x2="663.5" y2="913.0" stroke="#777" stroke-width="1"/>
<line x1="677.5" y1="909.5" x2="677.5" y2="913.0" stroke="#777" stroke-width="1"/>
<line x1="691.5" y1="909.5" x2="691.5" y2="913.0" stroke="#777" stroke-width="1"/>
<line x1="705.5" y1="909.5" x2="705.5" y2="913.0" stroke="#777" stroke-width="1"/>
<line x1="719.5" y1="909.5" x2="719.5" y2="916.5" stroke="#333" stroke-width="1"/>
<line x1="733.5" y1="909.5" x2="733.5" y2="913.0" stroke="#777" stroke-width="1"/>
<line x1="747.5" y1="909.5" x2="747.5" y2="913.0" stroke="#777" stroke-width="1"/>
<line x1="761.5" y1="909.5" x2="761.5" y2="913.0" stroke="#777" stroke-width="1"/>
<line x1="774.5" y1="909.5" x2="774.5" y2="913.0" stroke="#777" stroke-width="1"/>
<line x1="788.5" y1="909.5" x2="788.5" y2="916.5" stroke="#333" stroke-width="1"/>
<line x1="802.5" y1="909.5" x2="802.5" y2="913.0" stroke="#777" stroke-width="1"/>
<line x1="816.5" y1="909.5" x2="816.5" y2="913.0" stroke="#777" stroke-width="1"/>
<line x1="830.5" y1="909.5" x2="830.5" y2="913.0" stroke="#777" stroke-width="1"/>
<line x1="844.5" y1="909.5" x2="844.5" y2="913.0" stroke="#777" stroke-width="1"/>
<line x1="858.5" y1="909.5" x2="858.5" y2="916.5" stroke="#333" stroke-width="1"/>
<line x1="872.5" y1="909.5" x2="872.5" y2="913.0" stroke="#777" stroke-width="1"/>
<line x1="886.5" y1="909.5" x2="886.5" y2="913.0" stroke="#777" stroke-width="1"/>
<line x1="900.5" y1="909.5" x2="900.5" y2="913.0" stroke="#777" stroke-width="1"/>
<line x1="914.5" y1="909.5" x2="914.5" y2="913.0" stroke="#777" stroke-width="1"/>
<line x1="928.5" y1="909.5" x2="928.5" y2="916.5" stroke="#333" stroke-width="1"/>
<line x1="942.5" y1="909.5" x2="942.5" y2="913.0" stroke="#777" stroke-width="1"/>
<line x1="956.5" y1="909.5" x2="956.5" y2="913.0" stroke="#777" stroke-width="1"/>
<line x1="970.5" y1="909.5" x2="970.5" y2="913.0" stroke="#777" stroke-width="1"/>
</g>
<text x="16.3" y="913.7" font-size="15.6" textLength="14.3" lengthAdjust="spacingAndGlyphs" stroke="#111" stroke-width="0.35" fill="#111">11</text>
<text x="993.5" y="913.7" font-size="15.6" textLength="14.3" lengthAdjust="spacingAndGlyphs" stroke="#111" stroke-width="0.35" fill="#111">11</text>
<text x="16.3" y="891.1" font-size="15.6" textLength="14.3" lengthAdjust="spacingAndGlyphs" stroke="#111" stroke-width="0.35" fill="#111">12</text>
<text x="993.5" y="891.1" font-size="15.6" textLength="14.3" lengthAdjust="spacingAndGlyphs" stroke="#111" stroke-width="0.35" fill="#111">12</text>
<text x="16.3" y="868.6" font-size="15.6" textLength="14.3" lengthAdjust="spacingAndGlyphs" stroke="#111" stroke-width="0.35" fill="#111">13</text>
<text x="993.5" y="868.6" font-size="15.6" textLength="14.3" lengthAdjust="spacingAndGlyphs" stroke="#111" stroke-width="0.35" fill="#111">13</text>
<text x="16.3" y="846.0" font-size="15.6" textLength="14.3" lengthAdjust="spacingAndGlyphs" stroke="#111" stroke-width="0.35" fill="#111">14</text>
<text x="993.5" y="846.0" font-size="15.6" textLength="14.3" lengthAdjust="spacingAndGlyphs" stroke="#111" stroke-width="0.35" fill="#111">14</text>
<text x="16.3" y="823.4" font-size="15.6" textLength="14.3" lengthAdjust="spacingAndGlyphs" stroke="#111" stroke-width="0.35" fill="#111">15</text>
<text x="993.5" y="823.4" font-size="15.6" textLength="14.3" lengthAdjust="spacingAndGlyphs" stroke="#111" stroke-width="0.35" fill="#111">15</text>
<text x="16.3" y="800.8" font-size="15.6" textLength="14.3" lengthAdjust="spacingAndGlyphs" stroke="#111" stroke-width="0.35" fill="#111">16</text>
<text x="993.5" y="800.8" font-size="15.6" textLength="14.3" lengthAdjust="spacingAndGlyphs" stroke="#111" stroke-width="0.35" fill="#111">16</text>
<text x="16.3" y="778.3" font-size="15.6" textLength="14.3" lengthAdjust="spacingAndGlyphs" stroke="#111" stroke-width="0.35" fill="#111">17</text>
<text x="993.5" y="778.3" font-size="15.6" textLength="14.3" lengthAdjust="spacingAndGlyphs" stroke="#111" stroke-width="0.35" fill="#111">17</text>
<text x="16.3" y="755.7" font-size="15.6" textLength="14.3" lengthAdjust="spacingAndGlyphs" stroke="#111" stroke-width="0.35" fill="#111">18</text>
<text x="993.5" y="755.7" font-size="15.6" textLength="14.3" lengthAdjust="spacingAndGlyphs" stroke="#111" stroke-width="0.35" fill="#111">18</text>
<text x="16.3" y="733.1" font-size="15.6" textLength="14.3" lengthAdjust="spacingAndGlyphs" stroke="#111" stroke-width="0.35" fill="#111">19</text>
<text x="993.5" y="733.1" font-size="15.6" textLength="14.3" lengthAdjust="spacingAndGlyphs" stroke="#111" stroke-width="0.35" fill="#111">19</text>
<text x="16.3" y="710.6" font-size="15.6" textLength="14.3" lengthAdjust="spacingAndGlyphs" stroke="#111" stroke-width="0.35" fill="#111">20</text>
<text x="993.5" y="710.6" font-size="15.6" textLength="14.3" lengthAdjust="spacingAndGlyphs" stroke="#111" stroke-width="0.35" fill="#111">20</text>
<text x="16.3" y="688.0" font-size="15.6" textLength="14.3" lengthAdjust="spacingAndGlyphs" stroke="#111" stroke-width="0.35" fill="#111">21</text>
<text x="993.5" y="688.0" font-size="15.6" textLength="14.3" lengthAdjust="spacingAndGlyphs" stroke="#111" stroke-width="0.35" fill="#111">21</text>
<text x="16.3" y="665.4" font-size="15.6" textLength="14.3" lengthAdjust="spacingAndGlyphs" stroke="#111" stroke-width="0.35" fill="#111">22</text>
<text x="993.5" y="665.4" font-size="15.6" textLength="14.3" lengthAdjust="spacingAndGlyphs" stroke="#111" stroke-width="0.35" fill="#111">22</text>
<text x="16.3" y="642.9" font-size="15.6" textLength="14.3" lengthAdjust="spacingAndGlyphs" stroke="#111" stroke-width="0.35" fill="#111">23</text>
<text x="993.5" y="642.9" font-size="15.6" textLength="14.3" lengthAdjust="spacingAndGlyphs" stroke="#111" stroke-width="0.35" fill="#111">23</text>
<text x="16.3" y="620.3" font-size="15.6" textLength="14.3" lengthAdjust="spacingAndGlyphs" stroke="#111" stroke-width="0.35" fill="#111">24</text>
<text x="993.5" y="620.3" font-size="15.6" textLength="14.3" lengthAdjust="spacingAndGlyphs" stroke="#111" stroke-width="0.35" fill="#111">24</text>
<text x="16.3" y="597.7" font-size="15.6" textLength="14.3" lengthAdjust="spacingAndGlyphs" stroke="#111" stroke-width="0.35" fill="#111">25</text>
<text x="993.5" y="597.7" font-size="15.6" textLength="14.3" lengthAdjust="spacingAndGlyphs" stroke="#111" stroke-width="0.35" fill="#111">25</text>
<text x="16.3" y="575.1" font-size="15.6" textLength="14.3" lengthAdjust="spacingAndGlyphs" stroke="#111" stroke-width="0.35" fill="#111">26</text>
<text x="993.5" y="575.1" font-size="15.6" textLength="14.3" lengthAdjust="spacingAndGlyphs" stroke="#111" stroke-width="0.35" fill="#111">26</text>
<text x="16.3" y="552.6" font-size="15.6" textLength="14.3" lengthAdjust="spacingAndGlyphs" stroke="#111" stroke-width="0.35" fill="#111">27</text>
<text x="993.5" y="552.6" font-size="15.6" textLength="14.3" lengthAdjust="spacingAndGlyphs" stroke="#111" stroke-width="0.35" fill="#111">27</text>
<text x="16.3" y="530.0" font-size="15.6" textLength="14.3" lengthAdjust="spacingAndGlyphs" stroke="#111" stroke-width="0.35" fill="#111">28</text>
<text x="993.5" y="530.0" font-size="15.6" textLength="14.3" lengthAdjust="spacingAndGlyphs" stroke="#111" stroke-width="0.35" fill="#111">28</text>
<text x="16.3" y="507.4" font-size="15.6" textLength="14.3" lengthAdjust="spacingAndGlyphs" stroke="#111" stroke-width="0.35" fill="#111">29</text>
<text x="993.5" y="507.4" font-size="15.6" textLength="14.3" lengthAdjust="spacingAndGlyphs" stroke="#111" stroke-width="0.35" fill="#111">29</text>
<text x="16.3" y="484.9" font-size="15.6" textLength="14.3" lengthAdjust="spacingAndGlyphs" stroke="#111" stroke-width="0.35" fill="#111">30</text>
<text x="993.5" y="484.9" font-size="15.6" textLength="14.3" lengthAdjust="spacingAndGlyphs" stroke="#111" stroke-width="0.35" fill="#111">30</text>
<text x="16.3" y="462.3" font-size="15.6" textLength="14.3" lengthAdjust="spacingAndGlyphs" stroke="#111" stroke-width="0.35" fill="#111">31</text>
<text x="993.5" y="462.3" font-size="15.6" textLength="14.3" lengthAdjust="spacingAndGlyphs" stroke="#111" stroke-width="0.35" fill="#111">31</text>
<text x="16.3" y="439.7" font-size="15.6" textLength="14.3" lengthAdjust="spacingAndGlyphs" stroke="#111" stroke-width="0.35" fill="#111">32</text>
<text x="993.5" y="439.7" font-size="15.6" textLength="14.3" lengthAdjust="spacingAndGlyphs" stroke="#111" stroke-width="0.35" fill="#111">32</text>
<text x="16.3" y="417.2" font-size="15.6" textLength="14.3" lengthAdjust="spacingAndGlyphs" stroke="#111" stroke-width="0.35" fill="#111">33</text>
<text x="993.5" y="417.2" font-size="15.6" textLength="14.3" lengthAdjust="spacingAndGlyphs" stroke="#111" stroke-width="0.35" fill="#111">33</text>
<text x="16.3" y="394.6" font-size="15.6" textLength="14.3" lengthAdjust="spacingAndGlyphs" stroke="#111" stroke-width="0.35" fill="#111">34</text>
<text x="993.5" y="394.6" font-size="15.6" textLength="14.3" lengthAdjust="spacingAndGlyphs" stroke="#111" stroke-width="0.35" fill="#111">34</text>
<text x="16.3" y="372.0" font-size="15.6" textLength="14.3" lengthAdjust="spacingAndGlyphs" stroke="#111" stroke-width="0.35" fill="#111">35</text>
<text x="993.5" y="372.0" font-size="15.6" textLength="14.3" lengthAdjust="spacingAndGlyphs" stroke="#111" stroke-width="0.35" fill="#111">35</text>
<text x="16.3" y="349.4" font-size="15.6" textLength="14.3" lengthAdjust="spacingAndGlyphs" stroke="#111" stroke-width="0.35" fill="#111">36</text>
<text x="993.5" y="349.4" font-size="15.6" textLength="14.3" lengthAdjust="spacingAndGlyphs" stroke="#111" stroke-width="0.35" fill="#111">36</text>
<text x="16.3" y="326.9" font-size="15.6" textLength="14.3" lengthAdjust="spacingAndGlyphs" stroke="#111" stroke-width="0.35" fill="#111">37</text>
<text x="993.5" y="326.9" font-size="15.6" textLength="14.3" lengthAdjust="spacingAndGlyphs" stroke="#111" stroke-width="0.35" fill="#111">37</text>
<text x="16.3" y="304.3" font-size="15.6" textLength="14.3" lengthAdjust="spacingAndGlyphs" stroke="#111" stroke-width="0.35" fill="#111">38</text>
<text x="993.5" y="304.3" font-size="15.6" textLength="14.3" lengthAdjust="spacingAndGlyphs" stroke="#111" stroke-width="0.35" fill="#111">38</text>
<text x="16.3" y="281.7" font-size="15.6" textLength="14.3" lengthAdjust="spacingAndGlyphs" stroke="#111" stroke-width="0.35" fill="#111">39</text>
<text x="993.5" y="281.7" font-size="15.6" textLength="14.3" lengthAdjust="spacingAndGlyphs" stroke="#111" stroke-width="0.35" fill="#111">39</text>
<text x="16.3" y="259.2" font-size="15.6" textLength="14.3" lengthAdjust="spacingAndGlyphs" stroke="#111" stroke-width="0.35" fill="#111">40</text>
<text x="993.5" y="259.2" font-size="15.6" textLength="14.3" lengthAdjust="spacingAndGlyphs" stroke="#111" stroke-width="0.35" fill="#111">40</text>
<text x="16.3" y="236.6" font-size="15.6" textLength="14.3" lengthAdjust="spacingAndGlyphs" stroke="#111" stroke-width="0.35" fill="#111">41</text>
<text x="993.5" y="236.6" font-size="15.6" textLength="14.3" lengthAdjust="spacingAndGlyphs" stroke="#111" stroke-width="0.35" fill="#111">41</text>
<text x="16.3" y="214.0" font-size="15.6" textLength="14.3" lengthAdjust="spacingAndGlyphs" stroke="#111" stroke-width="0.35" fill="#111">42</text>
<text x="993.5" y="214.0" font-size="15.6" textLength="14.3" lengthAdjust="spacingAndGlyphs" stroke="#111" stroke-width="0.35" fill="#111">42</text>
<text x="16.3" y="191.4" font-size="15.6" textLength="14.3" lengthAdjust="spacingAndGlyphs" stroke="#111" stroke-width="0.35" fill="#111">43</text>
<text x="993.5" y="191.4" font-size="15.6" textLength="14.3" lengthAdjust="spacingAndGlyphs" stroke="#111" stroke-width="0.35" fill="#111">43</text>
<text x="16.3" y="168.9" font-size="15.6" textLength="14.3" lengthAdjust="spacingAndGlyphs" stroke="#111" stroke-width="0.35" fill="#111">44</text>
<text x="993.5" y="168.9" font-size="15.6" textLength="14.3" lengthAdjust="spacingAndGlyphs" stroke="#111" stroke-width="0.35" fill="#111">44</text>
<text x="16.3" y="146.3" font-size="15.6" textLength="14.3" lengthAdjust="spacingAndGlyphs" stroke="#111" stroke-width="0.35" fill="#111">45</text>
<text x="993.5" y="146.3" font-size="15.6" textLength="14.3" lengthAdjust="spacingAndGlyphs" stroke="#111" stroke-width="0.35" fill="#111">45</text>
<text x="16.3" y="123.7" font-size="15.6" textLength="14.3" lengthAdjust="spacingAndGlyphs" stroke="#111" stroke-width="0.35" fill="#111">46</text>
<text x="993.5" y="123.7" font-size="15.6" textLength="14.3" lengthAdjust="spacingAndGlyphs" stroke="#111" stroke-width="0.35" fill="#111">46</text>
<text x="16.3" y="101.2" font-size="15.6" textLength="14.3" lengthAdjust="spacingAndGlyphs" stroke="#111" stroke-width="0.35" fill="#111">47</text>
<text x="993.5" y="101.2" font-size="15.6" textLength="14.3" lengthAdjust="spacingAndGlyphs" stroke="#111" stroke-width="0.35" fill="#111">47</text>
<text x="16.3" y="78.6" font-size="15.6" textLength="14.3" lengthAdjust="spacingAndGlyphs" stroke="#111" stroke-width="0.35" fill="#111">48</text>
<text x="993.5" y="78.6" font-size="15.6" textLength="14.3" lengthAdjust="spacingAndGlyphs" stroke="#111" stroke-width="0.35" fill="#111">48</text>
<text x="78.2" y="931.4" font-size="15.4" textLength="28.6" lengthAdjust="spacingAndGlyphs" stroke="#111" stroke-width="0.35" fill="#111">1955</text>
<text x="147.2" y="931.4" font-size="15.4" textLength="28.6" lengthAdjust="spacingAndGlyphs" stroke="#111" stroke-width="0.35" fill="#111">1960</text>
<text x="217.2" y="931.4" font-size="15.4" textLength="28.6" lengthAdjust="spacingAndGlyphs" stroke="#111" stroke-width="0.35" fill="#111">1965</text>
<text x="287.2" y="931.4" font-size="15.4" textLength="28.6" lengthAdjust="spacingAndGlyphs" stroke="#111" stroke-width="0.35" fill="#111">1970</text>
<text x="356.2" y="931.4" font-size="15.4" textLength="28.6" lengthAdjust="spacingAndGlyphs" stroke="#111" stroke-width="0.35" fill="#111">1975</text>
<text x="426.2" y="931.4" font-size="15.4" textLength="28.6" lengthAdjust="spacingAndGlyphs" stroke="#111" stroke-width="0.35" fill="#111">1980</text>
<text x="496.2" y="931.4" font-size="15.4" textLength="28.6" lengthAdjust="spacingAndGlyphs" stroke="#111" stroke-width="0.35" fill="#111">1985</text>
<text x="565.2" y="931.4" font-size="15.4" textLength="28.6" lengthAdjust="spacingAndGlyphs" stroke="#111" stroke-width="0.35" fill="#111">1990</text>
<text x="635.2" y="931.4" font-size="15.4" textLength="28.6" lengthAdjust="spacingAndGlyphs" stroke="#111" stroke-width="0.35" fill="#111">1995</text>
<text x="705.2" y="931.4" font-size="15.4" textLength="28.6" lengthAdjust="spacingAndGlyphs" stroke="#111" stroke-width="0.35" fill="#111">2000</text>
<text x="774.2" y="931.4" font-size="15.4" textLength="28.6" lengthAdjust="spacingAndGlyphs" stroke="#111" stroke-width="0.35" fill="#111">2005</text>
<text x="844.2" y="931.4" font-size="15.4" textLength="28.6" lengthAdjust="spacingAndGlyphs" stroke="#111" stroke-width="0.35" fill="#111">2010</text>
<text x="914.2" y="931.4" font-size="15.4" textLength="28.6" lengthAdjust="spacingAndGlyphs" stroke="#111" stroke-width="0.35" fill="#111">2015</text>
<text y="51.3" font-size="22.5" stroke="#111" stroke-width="0.55" fill="#111"><tspan x="62.9" textLength="53.6" lengthAdjust="spacingAndGlyphs">Stocks</tspan> <tspan x="120.1" textLength="18.0" lengthAdjust="spacingAndGlyphs">as</tspan> <tspan x="142.1" textLength="9.6" lengthAdjust="spacingAndGlyphs">a</tspan> <tspan x="156.6" textLength="93.9" lengthAdjust="spacingAndGlyphs">Percentage</tspan> <tspan x="255.1" textLength="17.2" lengthAdjust="spacingAndGlyphs">of</tspan> <tspan x="276.6" textLength="89.8" lengthAdjust="spacingAndGlyphs">Household</tspan> <tspan x="371.7" textLength="72.9" lengthAdjust="spacingAndGlyphs">Financial</tspan> <tspan x="448.9" textLength="52.2" lengthAdjust="spacingAndGlyphs">Assets</tspan> <tspan x="505.6" textLength="79.9" lengthAdjust="spacingAndGlyphs">(Adjusted</tspan> <tspan x="590.4" textLength="23.8" lengthAdjust="spacingAndGlyphs">for</tspan> <tspan x="618.9" textLength="65.0" lengthAdjust="spacingAndGlyphs">Pension</tspan> <tspan x="689.1" textLength="55.5" lengthAdjust="spacingAndGlyphs">Funds)</tspan></text>
<text y="23.6" font-size="17.0" font-style="italic" stroke="#111" stroke-width="0.45" fill="#111"><tspan x="755.4" textLength="54.6" lengthAdjust="spacingAndGlyphs">Quarterly</tspan> <tspan x="812.0" textLength="29.1" lengthAdjust="spacingAndGlyphs">Data</tspan> <tspan x="844.1" textLength="63.0" lengthAdjust="spacingAndGlyphs">1951-12-31</tspan> <tspan x="910.7" textLength="11.6" lengthAdjust="spacingAndGlyphs">to</tspan> <tspan x="924.5" textLength="64.4" lengthAdjust="spacingAndGlyphs">2018-03-31</tspan></text>
<text y="119.2" font-size="18.2" stroke="#111" stroke-width="0.50" fill="#111"><tspan x="95.6" textLength="77.7" lengthAdjust="spacingAndGlyphs">Households</tspan> <tspan x="176.3" textLength="10.0" lengthAdjust="spacingAndGlyphs">&amp;</tspan> <tspan x="188.8" textLength="54.5" lengthAdjust="spacingAndGlyphs">Personal</tspan> <tspan x="246.3" textLength="40.8" lengthAdjust="spacingAndGlyphs">Trusts</tspan></text>
<text y="143.2" font-size="18.2" font-style="italic" stroke="#111" stroke-width="0.50" fill="#111"><tspan x="63.8" textLength="57.0" lengthAdjust="spacingAndGlyphs">(Includes</tspan> <tspan x="123.8" textLength="38.3" lengthAdjust="spacingAndGlyphs">Equity</tspan> <tspan x="165.6" textLength="44.5" lengthAdjust="spacingAndGlyphs">Mutual</tspan> <tspan x="213.6" textLength="36.0" lengthAdjust="spacingAndGlyphs">Funds</tspan> <tspan x="253.1" textLength="24.7" lengthAdjust="spacingAndGlyphs">and</tspan> <tspan x="281.8" textLength="32.0" lengthAdjust="spacingAndGlyphs">ETFs)</tspan></text>
<text y="124.0" font-size="15.2" transform="scale(0.850,1)" class="sf" stroke="#111" stroke-width="0.25" fill="#111"><tspan x="465.2" textLength="62.0" lengthAdjust="spacing">Equities</tspan> <tspan x="532.7" textLength="81.5" lengthAdjust="spacing">($23,452.2</tspan> <tspan x="620.0" textLength="18.3" lengthAdjust="spacing">B)</tspan></text>
<line x1="362.2" y1="133.5" x2="583.8" y2="133.5" stroke="#111" stroke-width="1.8"/>
<text y="154.9" font-size="15.2" transform="scale(0.850,1)" class="sf" stroke="#111" stroke-width="0.25" fill="#111"><tspan x="431.0" textLength="39.0" lengthAdjust="spacing">Total</tspan> <tspan x="476.2" textLength="30.6" lengthAdjust="spacing">Finl</tspan> <tspan x="511.9" textLength="48.7" lengthAdjust="spacing">Assets</tspan> <tspan x="565.6" textLength="78.7" lengthAdjust="spacing">($58,429.4</tspan> <tspan x="650.1" textLength="18.7" lengthAdjust="spacing">B)</tspan></text>
<text y="139.6" font-size="15.2" transform="scale(0.850,1)" class="sf" stroke="#111" stroke-width="0.25" fill="#111"><tspan x="705.6" textLength="10.0" lengthAdjust="spacing">=</tspan> <tspan x="728.6" textLength="48.9" lengthAdjust="spacing">40.1%</tspan></text>
<text x="409.6" y="211.4" font-size="10.8" textLength="204.0" lengthAdjust="spacingAndGlyphs" stroke="#c9403c" stroke-width="0.15" fill="#c9403c">Pension Fund Entitlements have been subtracted</text>
<text x="376.7" y="227.5" font-size="10.8" textLength="273.0" lengthAdjust="spacingAndGlyphs" stroke="#c9403c" stroke-width="0.15" fill="#c9403c">from the Total Financial Assets of Households and Personal Trusts.</text>
<text x="362.9" y="243.0" font-size="10.8" textLength="299.0" lengthAdjust="spacingAndGlyphs" stroke="#c9403c" stroke-width="0.15" fill="#c9403c">The result helps to identify those assets that Households may have more</text>
<text x="370.0" y="258.2" font-size="10.8" textLength="282.3" lengthAdjust="spacingAndGlyphs" stroke="#c9403c" stroke-width="0.15" fill="#c9403c">immediate control over. Therefore, this series is more likely to signify</text>
<text x="420.3" y="273.6" font-size="10.8" textLength="180.4" lengthAdjust="spacingAndGlyphs" stroke="#c9403c" stroke-width="0.15" fill="#c9403c">individual investor equity investment levels.</text>
<text x="389.3" y="304.9" font-size="12.6" font-style="italic" textLength="242.7" lengthAdjust="spacingAndGlyphs" stroke="#111" stroke-width="0.42" fill="#111">Data subject to revisions by the Federal Reserve Board</text>
<text y="510.0" font-size="15.8" stroke="#111" stroke-width="0.40" fill="#111"><tspan x="444.6" textLength="32.3" lengthAdjust="spacingAndGlyphs">Mean</tspan> <tspan x="480.7" textLength="8.9" lengthAdjust="spacingAndGlyphs">=</tspan> <tspan x="492.1" textLength="36.3" lengthAdjust="spacingAndGlyphs">28.4%</tspan></text>
<text x="270.3" y="297.8" font-size="13.0" font-weight="bold" textLength="31.7" lengthAdjust="spacingAndGlyphs" fill="#c9403c">37.7%</text>
<text x="325.8" y="391.7" font-size="13.0" font-weight="bold" textLength="32.1" lengthAdjust="spacingAndGlyphs" fill="#c9403c">33.6%</text>
<text x="705.3" y="73.5" font-size="13.0" font-weight="bold" textLength="31.6" lengthAdjust="spacingAndGlyphs" fill="#c9403c">47.6%</text>
<text x="531.3" y="671.8" font-size="13.0" font-weight="bold" textLength="31.7" lengthAdjust="spacingAndGlyphs" fill="#c9403c">21.3%</text>
<text x="806.8" y="303.8" font-size="13.0" font-weight="bold" textLength="31.2" lengthAdjust="spacingAndGlyphs" fill="#c9403c">37.5%</text>
<rect x="453.3" y="868.7" width="43.5" height="17.6" fill="#fff"/>
<text x="458.8" y="883.1" font-size="13.0" font-weight="bold" textLength="30.8" lengthAdjust="spacingAndGlyphs" fill="#6aa84f">13.1%</text>
<rect x="568.8" y="769.5" width="43.2" height="18.7" fill="#fff"/>
<text x="574.3" y="784.5" font-size="13.0" font-weight="bold" textLength="30.7" lengthAdjust="spacingAndGlyphs" fill="#6aa84f">17.5%</text>
<rect x="827.0" y="708.8" width="43.8" height="19.2" fill="#fff"/>
<text x="831.8" y="723.3" font-size="13.0" font-weight="bold" textLength="31.5" lengthAdjust="spacingAndGlyphs" fill="#6aa84f">20.3%</text>
<rect x="67" y="883.7" width="149.8" height="17.6" fill="#fff"/>
<text x="68.3" y="897.3" font-size="12.2" font-weight="bold" font-style="italic" textLength="35.2" lengthAdjust="spacingAndGlyphs" stroke="#111" stroke-width="0.25" fill="#111">Source:</text>
<text x="108.4" y="897.3" font-size="12.2" font-style="italic" textLength="99.2" lengthAdjust="spacingAndGlyphs" stroke="#111" stroke-width="0.20" fill="#111">Federal Reserve Board</text>
</svg></body></html>
